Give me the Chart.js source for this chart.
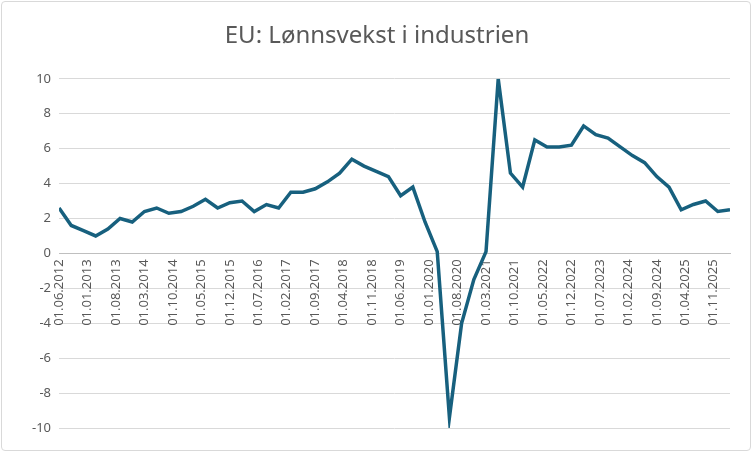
<!DOCTYPE html>
<html lang="no">
<head>
<meta charset="UTF-8">
<script src="https://cdn.jsdelivr.net/npm/chart.js"></script>
<style>
  body { margin: 0; background: #fff; }
  #wrap { position: absolute; left: 1px; top: 1px; width: 748px; height: 448px; border: 1px solid #d9d9d9; border-radius: 4px; }
</style>
</head>
<body>
<div id="wrap"><canvas id="c" width="748" height="448"></canvas></div>
<script>
// quarterly points starting 01.06.2012 (x = months since start)
const startYear = 2012, startMonth = 6;
const values = [2.6, 1.6, 1.3, 1.0, 1.4, 2.0, 1.8, 2.4, 2.6, 2.3, 2.4, 2.7, 3.1, 2.6, 2.9, 3.0,
  2.4, 2.8, 2.6, 3.5, 3.5, 3.7, 4.1, 4.6, 5.4, 5.0, 4.7, 4.4, 3.3, 3.8, 1.8, 0.1,
  -9.4, -4.0, -1.5, 0.1, 10.0, 4.6, 3.8, 6.5, 6.1, 6.1, 6.2, 7.3, 6.8, 6.6, 6.1, 5.6,
  5.2, 4.4, 3.8, 2.5, 2.8, 3.0, 2.4, 2.5];
const yTicks = [-10, -8, -6, -4, -2, 0, 2, 4, 6, 8, 10];

const points = values.map((v, i) => ({ x: i * 3, y: v }));

function monthLabel(m) {
  const total = startMonth - 1 + m;
  const y = startYear + Math.floor(total / 12);
  const mo = (total % 12) + 1;
  return '01.' + String(mo).padStart(2, '0') + '.' + y;
}

new Chart(document.getElementById('c'), {
  type: 'line',
  data: { datasets: [{ data: points, borderColor: '#17607e', borderWidth: 3.5, pointRadius: 0, tension: 0 }] },
  options: {
    responsive: false, animation: false,
    layout: { padding: { left: 22, right: 20, top: 8, bottom: 22 } },
    plugins: {
      legend: { display: false },
      title: { display: true, text: 'EU: Lønnsvekst i industrien', color: '#595959',
        font: { family: 'Noto Sans', size: 24, weight: 'normal' }, padding: { top: 12, bottom: 28 } }
    },
    scales: {
      x: {
        type: 'linear', position: { y: 0 }, min: 0, max: (values.length - 1) * 3,
        afterBuildTicks: s => { s.ticks = []; for (let m = 0; m <= s.max; m += 7) s.ticks.push({ value: m }); },
        ticks: { callback: v => monthLabel(v), maxRotation: 90, minRotation: 90, color: '#595959',
          font: { family: 'Noto Sans', size: 13 }, autoSkip: false, padding: 6 },
        grid: { display: false, drawTicks: false },
        border: { color: '#bfbfbf' }
      },
      y: {
        min: -10, max: 10,
        afterBuildTicks: s => { s.ticks = yTicks.map(v => ({ value: v })); },
        ticks: { color: '#595959', font: { family: 'Noto Sans', size: 13 }, padding: 8 },
        grid: { color: '#d9d9d9', drawTicks: false },
        border: { display: false }
      }
    }
  }
});
</script>
</body>
</html>
